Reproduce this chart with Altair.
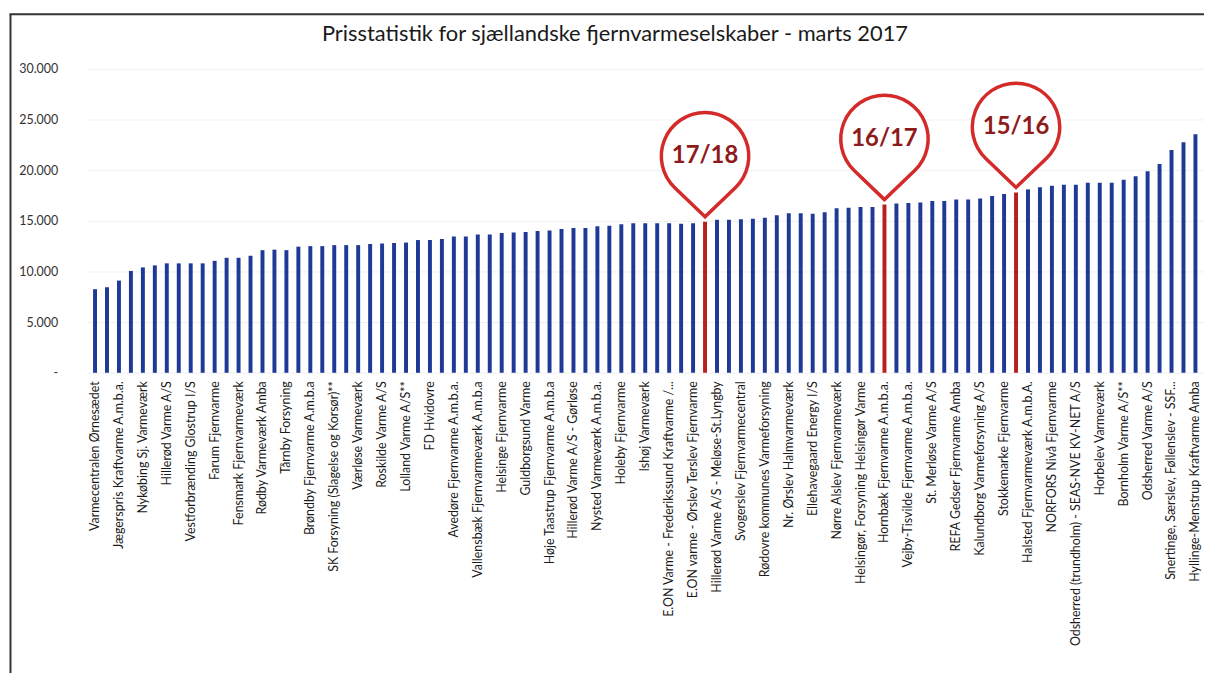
import json
import altair as alt
import pandas as pd

title = "Prisstatistik for sjællandske fjernvarmeselskaber - marts 2017"

# Labels shown on the axis (every second company)
labels = [
    "Varmecentralen Ørnesædet",
    "Jægerspris Kraftvarme A.m.b.a.",
    "Nykøbing Sj. Varmeværk",
    "Hillerød Varme A/S",
    "Vestforbrænding Glostrup I/S",
    "Farum Fjernvarme",
    "Fensmark Fjernvarmeværk",
    "Rødby Varmeværk Amba",
    "Tårnby Forsyning",
    "Brøndby Fjernvarme A.m.b.a",
    "SK Forsyning (Slagelse og Korsør)**",
    "Værløse Varmeværk",
    "Roskilde Varme A/S",
    "Lolland Varme A/S**",
    "FD Hvidovre",
    "Avedøre Fjernvarme A.m.b.a.",
    "Vallensbæk Fjernvarmeværk A.m.b.a",
    "Helsinge Fjernvarme",
    "Guldborgsund Varme",
    "Høje Taastrup Fjernvarme A.m.b.a",
    "Hillerød Varme A/S - Gørløse",
    "Nysted Varmeværk A.m.b.a.",
    "Holeby Fjernvarme",
    "Ishøj Varmeværk",
    "E.ON Varme - Frederikssund Kraftvarme /...",
    "E.ON varme - Ørslev Terslev Fjernvarme",
    "Hillerød Varme A/S - Meløse-St.Lyngby",
    "Svogerslev Fjernvarmecentral",
    "Rødovre kommunes Varmeforsyning",
    "Nr. Ørslev Halmvarmeværk",
    "Ellehavegaard Energy I/S",
    "Nørre Alslev Fjernvarmeværk",
    "Helsingør, Forsyning Helsingør Varme",
    "Hornbæk Fjernvarme A.m.b.a.",
    "Vejby-Tisvilde Fjernvarme A.m.b.a.",
    "St. Merløse Varme A/S",
    "REFA Gedser Fjernvarme Amba",
    "Kalundborg Varmeforsyning A/S",
    "Stokkemarke Fjernvarme",
    "Halsted Fjernvarmeværk A.m.b.A.",
    "NORFORS Nivå Fjernvarme",
    "Odsherred (trundholm) - SEAS-NVE KV-NET A/S",
    "Horbelev Varmeværk",
    "Bornholm Varme A/S**",
    "Odsherred Varme A/S",
    "Snertinge, Særslev, Føllenslev - SSF...",
    "Hyllinge-Menstrup Kraftvarme Amba",
]

# Price per company (kr.)
values = [
    8250, 8450, 9100, 10050, 10400, 10600, 10800, 10800, 10800, 10800,
    11050, 11350, 11350, 11550, 12100, 12150, 12100, 12450, 12500, 12500,
    12600, 12600, 12600, 12700, 12750, 12800, 12850, 13100, 13100, 13200,
    13450, 13450, 13650, 13650, 13800, 13850, 13900, 14000, 14050, 14200,
    14300, 14300, 14450, 14500, 14650, 14750, 14750, 14750, 14750, 14700,
    14750, 14900, 15100, 15100, 15150, 15200, 15300, 15550, 15750, 15750,
    15700, 15850, 16250, 16300, 16350, 16350, 16600, 16700, 16750, 16800,
    16950, 16950, 17100, 17100, 17200, 17450, 17650, 17800, 18100, 18300,
    18450, 18550, 18550, 18750, 18750, 18750, 19050, 19400, 19900, 20600,
    22000, 22750, 23550,
]

highlight_idx = [51, 66, 77]
callout_text = ["17/18", "16/17", "15/16"]
y_ticks = [0, 5000, 10000, 15000, 20000, 25000, 30000]

BLUE = "#1f3a96"
RED = "#b8201f"
BALLOON = "#d42a2a"
TEXT_RED = "#8e1b1b"
FONT = "Lato"

df = pd.DataFrame({"idx": list(range(len(values))), "value": values})
callouts = pd.DataFrame({
    "idx": highlight_idx,
    "value": [values[i] for i in highlight_idx],
    "text": callout_text,
})

x_label_expr = ("datum.value % 2 == 0 ? " + json.dumps(labels, ensure_ascii=False)
                + "[datum.value / 2] : ''")
y_label_expr = "datum.value == 0 ? '-' : replace(format(datum.value, ','), ',', '.')"

x_enc = alt.X(
    "idx:O",
    scale=alt.Scale(paddingInner=0.67, paddingOuter=0.55, round=False),
    axis=alt.Axis(
        title=None, labelAngle=-90, labelExpr=x_label_expr, labelFont=FONT,
        labelFontSize=12.5, labelLimit=600, labelPadding=8, ticks=False,
        tickSize=0, domain=False, grid=False, labelOverlap=False,
        labelColor="#1a1a1a",
    ),
)
y_enc = alt.Y(
    "value:Q",
    scale=alt.Scale(domain=[0, 30000], nice=False),
    axis=alt.Axis(
        title=None, values=y_ticks, labelExpr=y_label_expr, labelFont=FONT,
        labelFontSize=12.5, labelColor="#333333", grid=True,
        gridColor="#f0f0f0", ticks=False, tickSize=0, domain=False,
        labelPadding=29,
    ),
)

bars = alt.Chart(df).mark_bar().encode(
    x=x_enc,
    y=y_enc,
    color=alt.condition(
        alt.FieldOneOfPredicate(field="idx", oneOf=highlight_idx),
        alt.value(RED), alt.value(BLUE),
    ),
)

# teardrop balloon: tip just above the bar top, circle above
balloon_path = "M 0 -0.5 L -3.046 -3.425 A 4.4 4.4 0 1 1 3.046 -3.425 Z"
balloons = alt.Chart(callouts).mark_point(
    shape=balloon_path, size=400, filled=True, fill="white", stroke=BALLOON,
    strokeWidth=3.5, opacity=1, fillOpacity=1,
).encode(x="idx:O", y="value:Q")

balloon_text = alt.Chart(callouts).mark_text(
    dy=-66, fontSize=24, fontWeight="bold", font=FONT, color=TEXT_RED,
    align="center", baseline="middle",
).encode(x="idx:O", y="value:Q", text="text:N")

one = pd.DataFrame({"k": [0]})
title_mark = alt.Chart(one).mark_text(
    text=title, font=FONT, fontSize=22, color="#1a1a1a",
    align="center", baseline="middle",
).encode(x=alt.value(532), y=alt.value(-35))

frame_v = alt.Chart(one).mark_rule(color="#333333", strokeWidth=2).encode(
    x=alt.value(-76.5), y=alt.value(-55), y2=alt.value(640)
)
frame_h = alt.Chart(one).mark_rule(color="#333333", strokeWidth=2).encode(
    y=alt.value(-55), x=alt.value(-77.5), x2=alt.value(1140)
)

chart = alt.layer(
    bars, balloons, balloon_text, title_mark, frame_v, frame_h
).properties(
    width=1125,
    height=306,
    padding={"left": 79, "top": 59, "right": 0, "bottom": 300},
    autosize=alt.AutoSizeParams(type="none"),
).configure_view(stroke=None)

chart.save("out.html", embed_options={"renderer": "svg", "actions": False})
